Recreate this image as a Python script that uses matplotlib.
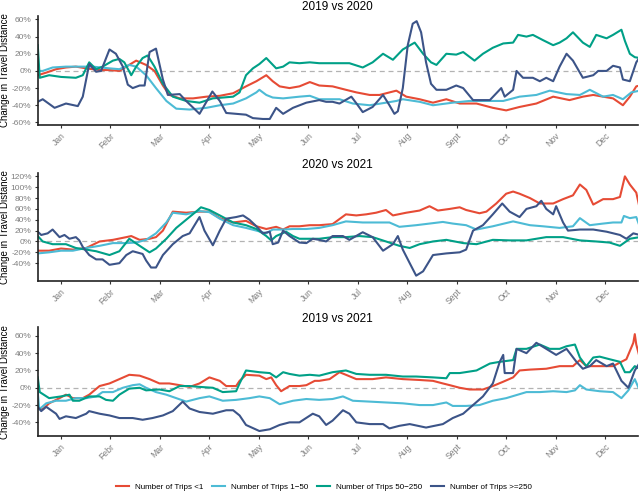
import matplotlib
matplotlib.use("Agg")
import matplotlib.pyplot as plt
import numpy as np

plt.rcParams['font.family'] = ['Liberation Sans', 'DejaVu Sans']

# x positions are in months (0 = Jan, 11 = Dec)
months = ['Jan', 'Febr', 'Mar', 'Apr', 'May', 'Jun', 'Jul', 'Aug', 'Sept', 'Oct', 'Nov', 'Dec']
labels = ['Number of Trips <1', 'Number of Trips 1\u221250', 'Number of Trips 50\u2212250', 'Number of Trips >=250']
colors = ['#E64B35', '#4DBBD5', '#00A087', '#3C5488']

# ---- 2019 vs 2020 ----
p1_red_x = [-0.47, -0.30, -0.10, 0.10, 0.30, 0.51, 0.78, 0.98, 1.18, 1.32, 1.52, 1.72, 1.89, 2.06, 2.19, 2.40, 2.67, 2.94,
            3.21, 3.48, 3.74, 3.95, 4.15, 4.28, 4.42, 4.62, 4.82, 5.03, 5.22, 5.49, 5.76, 5.97, 6.24, 6.44, 6.78, 6.98,
            7.25, 7.52, 7.79, 8.06, 8.40, 8.73, 9.00, 9.27, 9.61, 9.95, 10.28, 10.55, 10.76, 10.96, 11.16, 11.36,
            11.50, 11.63, 11.70]
p1_red_y = [-5, -2, 2, 4, 5, 3, 1, 1, 0, 5, 12, 7, 0, -17, -28, -32, -32, -30, -29, -26, -18, -12, -5, -12, -18, -20,
            -18, -13, -17, -18, -22, -25, -28, -28, -23, -30, -33, -37, -33, -38, -38, -43, -46, -42, -38, -30, -34,
            -30, -28, -30, -32, -40, -30, -18, -17]

p1_lblue_x = [-0.47, -0.37, -0.17, 0.10, 0.44, 0.64, 0.98, 1.18, 1.38, 1.52, 1.72, 1.92, 2.13, 2.33, 2.60, 2.94, 3.21,
              3.48, 3.74, 3.95, 4.01, 4.15, 4.28, 4.49, 4.82, 5.03, 5.22, 5.63, 5.90, 6.24, 6.57, 6.78, 6.91, 7.25,
              7.52, 7.92, 8.26, 8.60, 8.94, 9.27, 9.61, 9.88, 10.22, 10.49, 10.69, 10.96, 11.16, 11.36, 11.53, 11.70]
p1_lblue_y = [0, 0, 4, 5, 5, 5, 3, 2, 7, 5, -5, -20, -35, -44, -45, -43, -40, -38, -32, -25, -22, -28, -31, -32, -30,
              -29, -33, -33, -38, -40, -37, -35, -33, -36, -40, -37, -35, -35, -35, -30, -28, -23, -27, -28, -22, -30,
              -28, -33, -25, -23]

p1_green_x = [-0.47, -0.43, -0.24, 0.00, 0.30, 0.44, 0.57, 0.71, 0.84, 1.05, 1.18, 1.28, 1.42, 1.52, 1.65, 1.75, 1.89,
              2.06, 2.26, 2.53, 2.80, 3.07, 3.48, 3.61, 3.74, 3.88, 4.01, 4.15, 4.35, 4.49, 4.62, 4.82, 5.03, 5.22,
              5.56, 5.83, 6.10, 6.30, 6.51, 6.71, 6.91, 7.15, 7.32, 7.48, 7.59, 7.79, 7.99, 8.13, 8.36, 8.53, 8.73,
              8.94, 9.14, 9.24, 9.41, 9.54, 9.74, 9.95, 10.08, 10.22, 10.35, 10.55, 10.69, 10.82, 11.03, 11.16, 11.33,
              11.40, 11.50, 11.60, 11.70]
p1_green_y = [30, -8, -5, -7, -8, -5, 10, 2, 5, 12, 14, 10, -5, 5, 15, 18, 5, -15, -30, -35, -37, -32, -30, -25, -5, 3,
              8, 15, 3, 5, 10, 9, 10, 9, 9, 9, 4, 10, 20, 13, 25, 33, 20, 10, 7, 20, 19, 22, 12, 20, 27, 32, 33, 42,
              40, 42, 36, 30, 33, 38, 45, 33, 28, 42, 38, 42, 48, 35, 20, 16, 15]

p1_dblue_x = [-0.47, -0.37, -0.13, 0.10, 0.34, 0.44, 0.57, 0.71, 0.81, 0.98, 1.11, 1.25, 1.35, 1.45, 1.59, 1.69, 1.79,
              1.92, 2.06, 2.16, 2.40, 2.53, 2.80, 3.06, 3.21, 3.34, 3.74, 3.88, 4.08, 4.22, 4.35, 4.49, 4.69, 4.96,
              5.22, 5.36, 5.49, 5.63, 5.87, 6.00, 6.10, 6.30, 6.51, 6.64, 6.74, 6.81, 6.91, 7.01, 7.11, 7.19, 7.28,
              7.38, 7.48, 7.59, 7.79, 7.99, 8.13, 8.33, 8.67, 8.90, 8.97, 9.14, 9.21, 9.34, 9.54, 9.68, 9.81, 9.95,
              10.08, 10.22, 10.35, 10.55, 10.76, 10.86, 11.03, 11.16, 11.30, 11.36, 11.50, 11.63, 11.70]
p1_dblue_y = [-36, -33, -43, -38, -41, -30, 8, -1, 0, 25, 20, 5, -16, -20, -17, -17, 22, 26, -10, -28, -27, -35, -50,
              -24, -35, -49, -51, -55, -56, -56, -43, -50, -43, -37, -34, -36, -36, -38, -30, -40, -48, -42, -28, -40,
              -50, -47, -20, 30, 55, 58, 45, 10, -15, -22, -22, -17, -20, -34, -34, -20, -30, -22, 0, -8, -8, -12, -8,
              -12, 5, 20, 12, -8, -5, 0, 0, 6, 4, -10, -12, 10, 16]

# ---- 2020 vs 2021 ----
p2_red_x = [-0.47, -0.24, 0.00, 0.24, 0.51, 0.78, 1.05, 1.32, 1.42, 1.59, 1.79, 1.92, 2.06, 2.26, 2.53, 2.80, 3.00, 3.21,
            3.48, 3.74, 3.95, 4.15, 4.35, 4.49, 4.62, 4.82, 5.03, 5.22, 5.49, 5.76, 5.97, 6.17, 6.37, 6.57, 6.71, 6.98,
            7.25, 7.45, 7.62, 7.86, 8.06, 8.19, 8.46, 8.60, 8.80, 9.00, 9.14, 9.27, 9.48, 9.68, 9.95, 10.15, 10.35,
            10.49, 10.62, 10.76, 10.96, 11.16, 11.30, 11.40, 11.50, 11.63, 11.69]
p2_red_y = [-17, -17, -13, -15, -12, 0, 3, 8, 10, 3, 5, 8, 20, 55, 53, 55, 55, 43, 35, 38, 28, 23, 27, 22, 28, 28, 30,
            30, 32, 50, 48, 50, 53, 58, 48, 53, 57, 65, 57, 60, 63, 58, 52, 55, 70, 88, 92, 88, 80, 70, 70, 78, 85,
            105, 95, 68, 78, 78, 82, 120, 105, 90, 65]

p2_lblue_x = [-0.47, -0.24, 0.00, 0.24, 0.51, 0.78, 1.05, 1.32, 1.52, 1.72, 1.92, 2.13, 2.26, 2.53, 2.80, 3.00, 3.21,
              3.48, 3.74, 3.95, 4.15, 4.28, 4.49, 4.69, 4.96, 5.22, 5.49, 5.76, 6.10, 6.37, 6.64, 6.84, 7.18, 7.45,
              7.72, 7.92, 8.19, 8.40, 8.73, 9.14, 9.48, 9.74, 10.08, 10.35, 10.49, 10.69, 10.96, 11.16, 11.33, 11.38,
              11.50, 11.63, 11.69]
p2_lblue_y = [-22, -20, -17, -17, -12, -8, -3, -3, -2, 3, 15, 35, 53, 50, 56, 54, 42, 30, 25, 20, 15, 22, 22, 23, 23,
              25, 30, 37, 35, 35, 35, 27, 30, 33, 36, 33, 30, 22, 28, 37, 30, 28, 25, 28, 43, 30, 33, 35, 35, 47, 43,
              45, 30]

p2_green_x = [-0.47, -0.37, -0.17, 0.10, 0.30, 0.51, 0.71, 0.98, 1.18, 1.38, 1.59, 1.79, 1.92, 2.13, 2.33, 2.53, 2.73,
              2.83, 3.00, 3.21, 3.48, 3.74, 3.95, 4.15, 4.25, 4.35, 4.55, 4.69, 4.82, 5.03, 5.22, 5.49, 5.76, 6.03,
              6.30, 6.57, 6.84, 7.05, 7.25, 7.52, 7.79, 8.13, 8.40, 8.73, 9.07, 9.41, 9.81, 10.15, 10.49, 10.82,
              11.09, 11.30, 11.50, 11.70]
p2_green_y = [10, 0, -5, -5, -12, -15, -18, -25, -18, 5, -8, -20, -13, 5, 25, 40, 55, 63, 58, 48, 35, 30, 23, 10, 2,
              10, 18, 10, 5, 5, 5, 8, 8, 10, 8, 0, -8, -12, -5, 0, 3, -3, -5, 3, 2, 2, 8, 8, 2, 0, -2, -8, 5, 8]

p2_dblue_x = [-0.47, -0.40, -0.27, -0.17, -0.03, 0.07, 0.17, 0.30, 0.37, 0.44, 0.57, 0.71, 0.84, 0.98, 1.18, 1.32, 1.45,
              1.65, 1.72, 1.82, 1.92, 2.06, 2.26, 2.46, 2.60, 2.80, 2.90, 3.07, 3.21, 3.34, 3.54, 3.68, 3.81, 3.95,
              4.08, 4.22, 4.28, 4.39, 4.49, 4.62, 4.82, 4.96, 5.09, 5.22, 5.36, 5.49, 5.70, 5.83, 6.10, 6.30, 6.51,
              6.71, 6.81, 6.91, 7.05, 7.18, 7.32, 7.52, 7.79, 8.06, 8.19, 8.33, 8.53, 8.73, 8.92, 9.07, 9.27, 9.41,
              9.61, 9.71, 9.81, 9.95, 10.01, 10.15, 10.25, 10.49, 10.76, 11.03, 11.30, 11.43, 11.57, 11.70]
p2_dblue_y = [18, 12, 15, 22, 8, 12, 5, 8, 2, -10, -25, -33, -33, -43, -40, -25, -18, -23, -35, -48, -48, -25, -5, 10,
              15, 45, 20, -7, 20, 42, 45, 48, 40, 28, 15, 18, -5, -2, 20, 10, -2, -3, 5, 3, 0, 10, 10, 3, 17, 8, -17,
              -5, 10, -15, -40, -63, -55, -25, -22, -20, -15, 20, 30, 50, 70, 55, 45, 60, 65, 75, 60, 50, 65, 35, 20,
              22, 22, 18, 12, 5, 15, 12]

# ---- 2019 vs 2021 ----
p3_red_x = [-0.47, -0.37, -0.24, -0.03, 0.10, 0.24, 0.44, 0.57, 0.78, 0.98, 1.18, 1.38, 1.59, 1.79, 1.99, 2.19, 2.40,
            2.60, 2.80, 3.00, 3.21, 3.34, 3.54, 3.61, 3.74, 4.01, 4.15, 4.25, 4.35, 4.45, 4.62, 4.82, 4.96, 5.13,
            5.22, 5.43, 5.63, 5.76, 5.97, 6.30, 6.57, 6.91, 7.25, 7.52, 7.72, 7.86, 8.06, 8.26, 8.53, 8.73, 8.94,
            9.14, 9.27, 9.48, 9.81, 10.08, 10.35, 10.49, 10.62, 10.89, 11.16, 11.43, 11.57, 11.60, 11.63, 11.69]
p3_red_y = [-22, -25, -18, -12, -8, -12, -12, -8, 2, 5, 10, 15, 14, 10, 5, 5, 3, 1, 5, 12, 8, 2, 2, 8, 15, 14, 10, 12,
            3, -4, 2, 2, 3, 8, 8, 10, 18, 15, 10, 10, 12, 10, 9, 8, 5, 3, 0, -2, -2, 2, 7, 12, 20, 21, 22, 25, 25, 32,
            25, 25, 25, 33, 52, 62, 50, 37]

p3_lblue_x = [-0.47, -0.44, -0.30, -0.10, 0.10, 0.30, 0.51, 0.71, 0.84, 1.05, 1.25, 1.45, 1.59, 1.72, 1.92, 2.13, 2.33,
              2.53, 2.80, 3.00, 3.27, 3.54, 3.81, 4.01, 4.22, 4.42, 4.69, 4.96, 5.22, 5.49, 5.70, 5.90, 6.24, 6.57,
              6.91, 7.25, 7.52, 7.79, 7.92, 8.19, 8.46, 8.73, 9.00, 9.41, 9.68, 9.95, 10.22, 10.39, 10.49, 10.62,
              10.89, 11.16, 11.33, 11.47, 11.60, 11.69]
p3_lblue_y = [-5, -25, -18, -15, -15, -12, -12, -10, -5, -5, 0, 3, 4, 0, -5, -8, -12, -16, -12, -10, -15, -14, -12,
              -10, -12, -19, -15, -13, -14, -13, -10, -15, -16, -17, -18, -20, -20, -17, -21, -21, -20, -15, -12, -5,
              -5, -4, -5, -3, 3, -2, -4, -5, -12, -3, 10, -2]

p3_green_x = [-0.47, -0.43, -0.24, 0.00, 0.17, 0.24, 0.37, 0.57, 0.78, 0.91, 1.05, 1.18, 1.38, 1.59, 1.72, 1.99, 2.19,
              2.40, 2.60, 2.80, 3.07, 3.27, 3.54, 3.61, 3.74, 4.01, 4.22, 4.35, 4.49, 4.62, 4.82, 5.03, 5.22, 5.49,
              5.76, 5.97, 6.24, 6.57, 6.91, 7.18, 7.52, 7.79, 7.86, 8.06, 8.40, 8.67, 8.87, 9.14, 9.21, 9.41, 9.68,
              9.88, 10.08, 10.22, 10.39, 10.49, 10.62, 10.76, 10.89, 11.09, 11.30, 11.40, 11.50, 11.60, 11.69]
p3_green_y = [12, -5, -12, -10, -8, -15, -15, -10, -10, -14, -15, -8, -1, 0, -3, -2, -4, 2, 2, 1, 0, -5, -4, 5, 20, 18,
              17, 12, 18, 16, 14, 15, 14, 18, 20, 16, 15, 15, 13, 13, 12, 11, 17, 17, 20, 28, 30, 32, 45, 45, 50, 45,
              45, 48, 50, 35, 25, 35, 36, 33, 30, 18, 18, 25, 22]

p3_dblue_x = [-0.47, -0.40, -0.30, -0.10, -0.03, 0.10, 0.30, 0.51, 0.57, 0.78, 0.98, 1.18, 1.45, 1.65, 1.85, 2.06, 2.26,
              2.46, 2.60, 2.80, 3.07, 3.34, 3.48, 3.61, 3.74, 4.01, 4.22, 4.42, 4.62, 4.82, 5.09, 5.22, 5.36, 5.49,
              5.70, 5.83, 5.97, 6.24, 6.51, 6.64, 6.84, 7.05, 7.38, 7.72, 7.92, 8.13, 8.33, 8.53, 8.73, 8.87, 8.94,
              8.97, 9.14, 9.21, 9.41, 9.61, 9.81, 10.01, 10.22, 10.42, 10.55, 10.69, 10.82, 11.03, 11.16, 11.33,
              11.47, 11.60, 11.69]
p3_dblue_y = [-22, -27, -22, -30, -36, -33, -35, -30, -27, -30, -32, -35, -35, -37, -35, -32, -27, -16, -24, -28, -30,
              -26, -26, -32, -43, -50, -48, -43, -40, -40, -30, -33, -43, -38, -26, -30, -40, -42, -42, -47, -44, -42,
              -46, -42, -35, -30, -20, -10, 5, 30, 38, 17, 17, 45, 40, 52, 45, 38, 45, 30, 22, 25, 32, 25, 28, 8, 0,
              20, 28]

panels = [
    ('2019 vs 2020', [-60, -40, -20, 0, 20, 40, 60], (-63, 64),
     [(p1_red_x, p1_red_y), (p1_lblue_x, p1_lblue_y), (p1_green_x, p1_green_y), (p1_dblue_x, p1_dblue_y)]),
    ('2020 vs 2021', [-40, -20, 0, 20, 40, 60, 80, 100, 120], (-73, 126),
     [(p2_red_x, p2_red_y), (p2_lblue_x, p2_lblue_y), (p2_green_x, p2_green_y), (p2_dblue_x, p2_dblue_y)]),
    ('2019 vs 2021', [-40, -20, 0, 20, 40, 60], (-56, 70),
     [(p3_red_x, p3_red_y), (p3_lblue_x, p3_lblue_y), (p3_green_x, p3_green_y), (p3_dblue_x, p3_dblue_y)]),
]

fig = plt.figure(figsize=(6.4, 4.94), dpi=100)
boxes = [[0.059, 0.747, 0.9375, 0.2206], [0.059, 0.431, 0.9375, 0.2186], [0.059, 0.117, 0.9375, 0.2206]]

for box, (title, yticks, ylim, series) in zip(boxes, panels):
    ax = fig.add_axes(box)
    ax.axhline(0, color='#b3b3b3', lw=0.9, ls=(0, (4, 3)), zorder=1)
    for (x, y), c, lab in zip(series, colors, labels):
        ax.plot(x, y, color=c, lw=1.5, label=lab, zorder=2)
    ax.set_xlim(-0.47, 11.66)
    ax.set_ylim(*ylim)
    ax.set_xticks(range(12))
    ax.set_xticklabels(months, rotation=45, ha='right', rotation_mode='anchor', fontsize=6.2, color='#7f7f7f')
    ax.set_yticks(yticks)
    ax.set_yticklabels(['%d%%' % v for v in yticks], fontsize=6.0, color='#7f7f7f')
    ax.tick_params(length=2.5, width=0.8, color='#333333', pad=2)
    for s in ['top', 'right']:
        ax.spines[s].set_visible(False)
    for s in ['left', 'bottom']:
        ax.spines[s].set_linewidth(1.2)
        ax.spines[s].set_color('#222222')
    ax.set_title(title, fontsize=8.5, pad=4)
    ax.set_ylabel('Change in Travel Distance', fontsize=7)
    ax.yaxis.set_label_coords(-0.047, 0.5)

handles, labs = ax.get_legend_handles_labels()
fig.legend(handles, labs, loc='center', bbox_to_anchor=(0.506, 0.014), ncol=4, frameon=False, fontsize=5.8,
           handlelength=1.6, columnspacing=1.1, handletextpad=0.75)

fig.savefig('out.png', dpi=100)
